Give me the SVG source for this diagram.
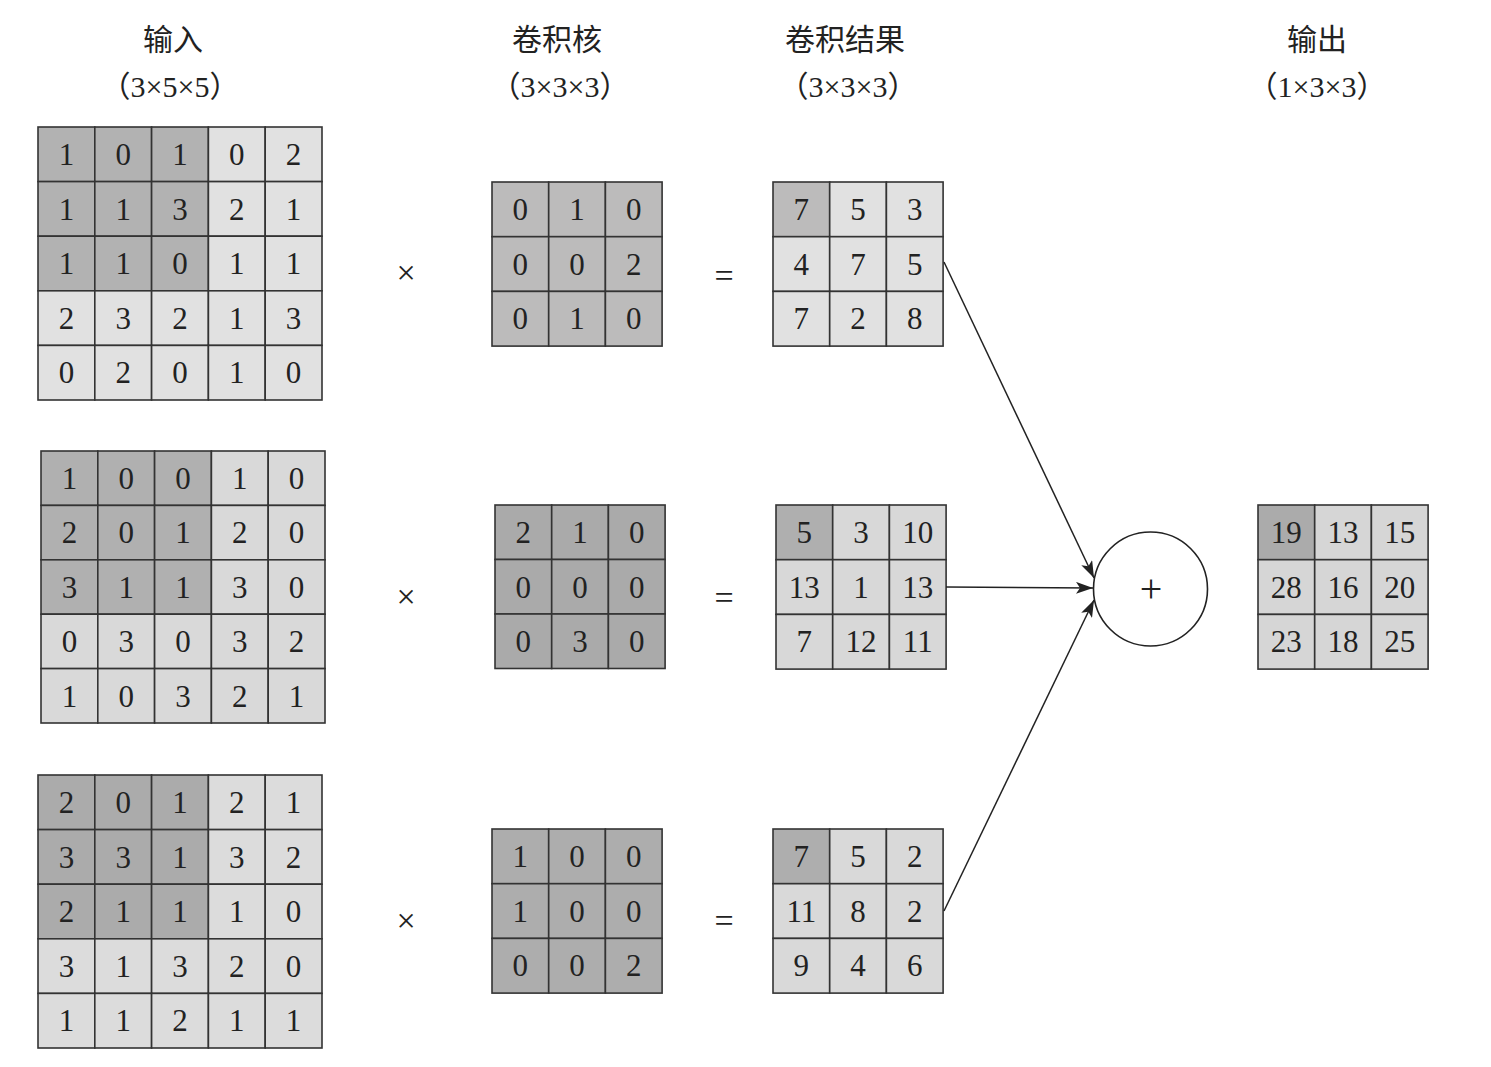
<svg xmlns="http://www.w3.org/2000/svg" width="1491" height="1067" viewBox="0 0 1491 1067">
<style>
text{font-family:"Liberation Serif","Noto Sans CJK SC",serif;fill:#222;text-anchor:middle}
.n{font-size:31px}
.t{font-size:30px}
.op{font-size:34px}
.plus{font-size:40px}
rect{stroke:#333;stroke-width:1.6}
.bg{stroke:none}
.conn line{stroke:#222;stroke-width:1.5;marker-end:url(#ah)}
</style>
<defs>
<marker id="ah" markerUnits="userSpaceOnUse" markerWidth="18" markerHeight="12" refX="17" refY="6" orient="auto">
<path d="M0,0 L17,6 L0,12 L4,6 z" fill="#222"/>
</marker>
</defs>
<rect class="bg" width="1491" height="1067" fill="#fff"/>

<g id="titles">
<text class="t" x="173" y="50">输入</text>
<text class="t" x="170" y="97">（3×5×5）</text>
<text class="t" x="557" y="50">卷积核</text>
<text class="t" x="560" y="97">（3×3×3）</text>
<text class="t" x="845" y="50">卷积结果</text>
<text class="t" x="848" y="97">（3×3×3）</text>
<text class="t" x="1317" y="50">输出</text>
<text class="t" x="1317" y="97">（1×3×3）</text>
</g>

<g id="input1" transform="translate(38,127)">
<g fill="#b2b2b2"><rect x="0" y="0" width="56.8" height="54.6"/><rect x="56.8" y="0" width="56.8" height="54.6"/><rect x="113.6" y="0" width="56.8" height="54.6"/><rect x="0" y="54.6" width="56.8" height="54.6"/><rect x="56.8" y="54.6" width="56.8" height="54.6"/><rect x="113.6" y="54.6" width="56.8" height="54.6"/><rect x="0" y="109.2" width="56.8" height="54.6"/><rect x="56.8" y="109.2" width="56.8" height="54.6"/><rect x="113.6" y="109.2" width="56.8" height="54.6"/></g>
<g fill="#e1e1e1"><rect x="170.4" y="0" width="56.8" height="54.6"/><rect x="227.2" y="0" width="56.8" height="54.6"/><rect x="170.4" y="54.6" width="56.8" height="54.6"/><rect x="227.2" y="54.6" width="56.8" height="54.6"/><rect x="170.4" y="109.2" width="56.8" height="54.6"/><rect x="227.2" y="109.2" width="56.8" height="54.6"/><rect x="0" y="163.8" width="56.8" height="54.6"/><rect x="56.8" y="163.8" width="56.8" height="54.6"/><rect x="113.6" y="163.8" width="56.8" height="54.6"/><rect x="170.4" y="163.8" width="56.8" height="54.6"/><rect x="227.2" y="163.8" width="56.8" height="54.6"/><rect x="0" y="218.4" width="56.8" height="54.6"/><rect x="56.8" y="218.4" width="56.8" height="54.6"/><rect x="113.6" y="218.4" width="56.8" height="54.6"/><rect x="170.4" y="218.4" width="56.8" height="54.6"/><rect x="227.2" y="218.4" width="56.8" height="54.6"/></g>
<text class="n" x="28.4" y="38">1</text><text class="n" x="85.2" y="38">0</text><text class="n" x="142" y="38">1</text><text class="n" x="198.8" y="38">0</text><text class="n" x="255.6" y="38">2</text>
<text class="n" x="28.4" y="92.6">1</text><text class="n" x="85.2" y="92.6">1</text><text class="n" x="142" y="92.6">3</text><text class="n" x="198.8" y="92.6">2</text><text class="n" x="255.6" y="92.6">1</text>
<text class="n" x="28.4" y="147.2">1</text><text class="n" x="85.2" y="147.2">1</text><text class="n" x="142" y="147.2">0</text><text class="n" x="198.8" y="147.2">1</text><text class="n" x="255.6" y="147.2">1</text>
<text class="n" x="28.4" y="201.8">2</text><text class="n" x="85.2" y="201.8">3</text><text class="n" x="142" y="201.8">2</text><text class="n" x="198.8" y="201.8">1</text><text class="n" x="255.6" y="201.8">3</text>
<text class="n" x="28.4" y="256.4">0</text><text class="n" x="85.2" y="256.4">2</text><text class="n" x="142" y="256.4">0</text><text class="n" x="198.8" y="256.4">1</text><text class="n" x="255.6" y="256.4">0</text>
</g>

<g id="input2" transform="translate(41,451)">
<g fill="#b0b0b0"><rect x="0" y="0" width="56.8" height="54.4"/><rect x="56.8" y="0" width="56.8" height="54.4"/><rect x="113.6" y="0" width="56.8" height="54.4"/><rect x="0" y="54.4" width="56.8" height="54.4"/><rect x="56.8" y="54.4" width="56.8" height="54.4"/><rect x="113.6" y="54.4" width="56.8" height="54.4"/><rect x="0" y="108.8" width="56.8" height="54.4"/><rect x="56.8" y="108.8" width="56.8" height="54.4"/><rect x="113.6" y="108.8" width="56.8" height="54.4"/></g>
<g fill="#d9d9d9"><rect x="170.4" y="0" width="56.8" height="54.4"/><rect x="227.2" y="0" width="56.8" height="54.4"/><rect x="170.4" y="54.4" width="56.8" height="54.4"/><rect x="227.2" y="54.4" width="56.8" height="54.4"/><rect x="170.4" y="108.8" width="56.8" height="54.4"/><rect x="227.2" y="108.8" width="56.8" height="54.4"/><rect x="0" y="163.2" width="56.8" height="54.4"/><rect x="56.8" y="163.2" width="56.8" height="54.4"/><rect x="113.6" y="163.2" width="56.8" height="54.4"/><rect x="170.4" y="163.2" width="56.8" height="54.4"/><rect x="227.2" y="163.2" width="56.8" height="54.4"/><rect x="0" y="217.6" width="56.8" height="54.4"/><rect x="56.8" y="217.6" width="56.8" height="54.4"/><rect x="113.6" y="217.6" width="56.8" height="54.4"/><rect x="170.4" y="217.6" width="56.8" height="54.4"/><rect x="227.2" y="217.6" width="56.8" height="54.4"/></g>
<text class="n" x="28.4" y="38">1</text><text class="n" x="85.2" y="38">0</text><text class="n" x="142" y="38">0</text><text class="n" x="198.8" y="38">1</text><text class="n" x="255.6" y="38">0</text>
<text class="n" x="28.4" y="92.4">2</text><text class="n" x="85.2" y="92.4">0</text><text class="n" x="142" y="92.4">1</text><text class="n" x="198.8" y="92.4">2</text><text class="n" x="255.6" y="92.4">0</text>
<text class="n" x="28.4" y="146.8">3</text><text class="n" x="85.2" y="146.8">1</text><text class="n" x="142" y="146.8">1</text><text class="n" x="198.8" y="146.8">3</text><text class="n" x="255.6" y="146.8">0</text>
<text class="n" x="28.4" y="201.2">0</text><text class="n" x="85.2" y="201.2">3</text><text class="n" x="142" y="201.2">0</text><text class="n" x="198.8" y="201.2">3</text><text class="n" x="255.6" y="201.2">2</text>
<text class="n" x="28.4" y="255.6">1</text><text class="n" x="85.2" y="255.6">0</text><text class="n" x="142" y="255.6">3</text><text class="n" x="198.8" y="255.6">2</text><text class="n" x="255.6" y="255.6">1</text>
</g>

<g id="input3" transform="translate(38,775)">
<g fill="#ababab"><rect x="0" y="0" width="56.8" height="54.6"/><rect x="56.8" y="0" width="56.8" height="54.6"/><rect x="113.6" y="0" width="56.8" height="54.6"/><rect x="0" y="54.6" width="56.8" height="54.6"/><rect x="56.8" y="54.6" width="56.8" height="54.6"/><rect x="113.6" y="54.6" width="56.8" height="54.6"/><rect x="0" y="109.2" width="56.8" height="54.6"/><rect x="56.8" y="109.2" width="56.8" height="54.6"/><rect x="113.6" y="109.2" width="56.8" height="54.6"/></g>
<g fill="#dcdcdc"><rect x="170.4" y="0" width="56.8" height="54.6"/><rect x="227.2" y="0" width="56.8" height="54.6"/><rect x="170.4" y="54.6" width="56.8" height="54.6"/><rect x="227.2" y="54.6" width="56.8" height="54.6"/><rect x="170.4" y="109.2" width="56.8" height="54.6"/><rect x="227.2" y="109.2" width="56.8" height="54.6"/><rect x="0" y="163.8" width="56.8" height="54.6"/><rect x="56.8" y="163.8" width="56.8" height="54.6"/><rect x="113.6" y="163.8" width="56.8" height="54.6"/><rect x="170.4" y="163.8" width="56.8" height="54.6"/><rect x="227.2" y="163.8" width="56.8" height="54.6"/><rect x="0" y="218.4" width="56.8" height="54.6"/><rect x="56.8" y="218.4" width="56.8" height="54.6"/><rect x="113.6" y="218.4" width="56.8" height="54.6"/><rect x="170.4" y="218.4" width="56.8" height="54.6"/><rect x="227.2" y="218.4" width="56.8" height="54.6"/></g>
<text class="n" x="28.4" y="38">2</text><text class="n" x="85.2" y="38">0</text><text class="n" x="142" y="38">1</text><text class="n" x="198.8" y="38">2</text><text class="n" x="255.6" y="38">1</text>
<text class="n" x="28.4" y="92.6">3</text><text class="n" x="85.2" y="92.6">3</text><text class="n" x="142" y="92.6">1</text><text class="n" x="198.8" y="92.6">3</text><text class="n" x="255.6" y="92.6">2</text>
<text class="n" x="28.4" y="147.2">2</text><text class="n" x="85.2" y="147.2">1</text><text class="n" x="142" y="147.2">1</text><text class="n" x="198.8" y="147.2">1</text><text class="n" x="255.6" y="147.2">0</text>
<text class="n" x="28.4" y="201.8">3</text><text class="n" x="85.2" y="201.8">1</text><text class="n" x="142" y="201.8">3</text><text class="n" x="198.8" y="201.8">2</text><text class="n" x="255.6" y="201.8">0</text>
<text class="n" x="28.4" y="256.4">1</text><text class="n" x="85.2" y="256.4">1</text><text class="n" x="142" y="256.4">2</text><text class="n" x="198.8" y="256.4">1</text><text class="n" x="255.6" y="256.4">1</text>
</g>

<g id="ops">
<text class="op" x="406" y="284">×</text>
<text class="op" x="406" y="608">×</text>
<text class="op" x="406" y="932">×</text>
<text class="op" x="724" y="287">=</text>
<text class="op" x="724" y="609">=</text>
<text class="op" x="724" y="932">=</text>
</g>

<g id="kernel1" transform="translate(492,182)">
<g fill="#bcbbbb"><rect x="0" y="0" width="56.7" height="54.7"/><rect x="56.7" y="0" width="56.7" height="54.7"/><rect x="113.4" y="0" width="56.7" height="54.7"/><rect x="0" y="54.7" width="56.7" height="54.7"/><rect x="56.7" y="54.7" width="56.7" height="54.7"/><rect x="113.4" y="54.7" width="56.7" height="54.7"/><rect x="0" y="109.4" width="56.7" height="54.7"/><rect x="56.7" y="109.4" width="56.7" height="54.7"/><rect x="113.4" y="109.4" width="56.7" height="54.7"/></g>
<text class="n" x="28.35" y="38">0</text><text class="n" x="85.05" y="38">1</text><text class="n" x="141.75" y="38">0</text>
<text class="n" x="28.35" y="92.7">0</text><text class="n" x="85.05" y="92.7">0</text><text class="n" x="141.75" y="92.7">2</text>
<text class="n" x="28.35" y="147.4">0</text><text class="n" x="85.05" y="147.4">1</text><text class="n" x="141.75" y="147.4">0</text>
</g>

<g id="kernel2" transform="translate(495,505)">
<g fill="#aaaaaa"><rect x="0" y="0" width="56.7" height="54.5"/><rect x="56.7" y="0" width="56.7" height="54.5"/><rect x="113.4" y="0" width="56.7" height="54.5"/><rect x="0" y="54.5" width="56.7" height="54.5"/><rect x="56.7" y="54.5" width="56.7" height="54.5"/><rect x="113.4" y="54.5" width="56.7" height="54.5"/><rect x="0" y="109" width="56.7" height="54.5"/><rect x="56.7" y="109" width="56.7" height="54.5"/><rect x="113.4" y="109" width="56.7" height="54.5"/></g>
<text class="n" x="28.35" y="38">2</text><text class="n" x="85.05" y="38">1</text><text class="n" x="141.75" y="38">0</text>
<text class="n" x="28.35" y="92.5">0</text><text class="n" x="85.05" y="92.5">0</text><text class="n" x="141.75" y="92.5">0</text>
<text class="n" x="28.35" y="147">0</text><text class="n" x="85.05" y="147">3</text><text class="n" x="141.75" y="147">0</text>
</g>

<g id="kernel3" transform="translate(492,829)">
<g fill="#adadad"><rect x="0" y="0" width="56.7" height="54.7"/><rect x="56.7" y="0" width="56.7" height="54.7"/><rect x="113.4" y="0" width="56.7" height="54.7"/><rect x="0" y="54.7" width="56.7" height="54.7"/><rect x="56.7" y="54.7" width="56.7" height="54.7"/><rect x="113.4" y="54.7" width="56.7" height="54.7"/><rect x="0" y="109.4" width="56.7" height="54.7"/><rect x="56.7" y="109.4" width="56.7" height="54.7"/><rect x="113.4" y="109.4" width="56.7" height="54.7"/></g>
<text class="n" x="28.35" y="38">1</text><text class="n" x="85.05" y="38">0</text><text class="n" x="141.75" y="38">0</text>
<text class="n" x="28.35" y="92.7">1</text><text class="n" x="85.05" y="92.7">0</text><text class="n" x="141.75" y="92.7">0</text>
<text class="n" x="28.35" y="147.4">0</text><text class="n" x="85.05" y="147.4">0</text><text class="n" x="141.75" y="147.4">2</text>
</g>

<g id="result1" transform="translate(773,182)">
<rect x="0" y="0" width="56.7" height="54.7" fill="#bcbbbb"/>
<g fill="#e1e1e1"><rect x="56.7" y="0" width="56.7" height="54.7"/><rect x="113.4" y="0" width="56.7" height="54.7"/><rect x="0" y="54.7" width="56.7" height="54.7"/><rect x="56.7" y="54.7" width="56.7" height="54.7"/><rect x="113.4" y="54.7" width="56.7" height="54.7"/><rect x="0" y="109.4" width="56.7" height="54.7"/><rect x="56.7" y="109.4" width="56.7" height="54.7"/><rect x="113.4" y="109.4" width="56.7" height="54.7"/></g>
<text class="n" x="28.35" y="38">7</text><text class="n" x="85.05" y="38">5</text><text class="n" x="141.75" y="38">3</text>
<text class="n" x="28.35" y="92.7">4</text><text class="n" x="85.05" y="92.7">7</text><text class="n" x="141.75" y="92.7">5</text>
<text class="n" x="28.35" y="147.4">7</text><text class="n" x="85.05" y="147.4">2</text><text class="n" x="141.75" y="147.4">8</text>
</g>

<g id="result2" transform="translate(776,505)">
<rect x="0" y="0" width="56.7" height="54.7" fill="#afafaf"/>
<g fill="#d8d8d8"><rect x="56.7" y="0" width="56.7" height="54.7"/><rect x="113.4" y="0" width="56.7" height="54.7"/><rect x="0" y="54.7" width="56.7" height="54.7"/><rect x="56.7" y="54.7" width="56.7" height="54.7"/><rect x="113.4" y="54.7" width="56.7" height="54.7"/><rect x="0" y="109.4" width="56.7" height="54.7"/><rect x="56.7" y="109.4" width="56.7" height="54.7"/><rect x="113.4" y="109.4" width="56.7" height="54.7"/></g>
<text class="n" x="28.35" y="38">5</text><text class="n" x="85.05" y="38">3</text><text class="n" x="141.75" y="38">10</text>
<text class="n" x="28.35" y="92.7">13</text><text class="n" x="85.05" y="92.7">1</text><text class="n" x="141.75" y="92.7">13</text>
<text class="n" x="28.35" y="147.4">7</text><text class="n" x="85.05" y="147.4">12</text><text class="n" x="141.75" y="147.4">11</text>
</g>

<g id="result3" transform="translate(773,829)">
<rect x="0" y="0" width="56.7" height="54.7" fill="#aeaeae"/>
<g fill="#d9d9d9"><rect x="56.7" y="0" width="56.7" height="54.7"/><rect x="113.4" y="0" width="56.7" height="54.7"/><rect x="0" y="54.7" width="56.7" height="54.7"/><rect x="56.7" y="54.7" width="56.7" height="54.7"/><rect x="113.4" y="54.7" width="56.7" height="54.7"/><rect x="0" y="109.4" width="56.7" height="54.7"/><rect x="56.7" y="109.4" width="56.7" height="54.7"/><rect x="113.4" y="109.4" width="56.7" height="54.7"/></g>
<text class="n" x="28.35" y="38">7</text><text class="n" x="85.05" y="38">5</text><text class="n" x="141.75" y="38">2</text>
<text class="n" x="28.35" y="92.7">11</text><text class="n" x="85.05" y="92.7">8</text><text class="n" x="141.75" y="92.7">2</text>
<text class="n" x="28.35" y="147.4">9</text><text class="n" x="85.05" y="147.4">4</text><text class="n" x="141.75" y="147.4">6</text>
</g>

<g id="sum">
<circle cx="1150.5" cy="589" r="57" fill="#fff" stroke="#222" stroke-width="1.6"/>
<text class="plus" x="1151" y="602">+</text>
</g>

<g id="output" transform="translate(1258,505)">
<rect x="0" y="0" width="56.7" height="54.7" fill="#ababab"/>
<g fill="#d6d6d6"><rect x="56.7" y="0" width="56.7" height="54.7"/><rect x="113.4" y="0" width="56.7" height="54.7"/><rect x="0" y="54.7" width="56.7" height="54.7"/><rect x="56.7" y="54.7" width="56.7" height="54.7"/><rect x="113.4" y="54.7" width="56.7" height="54.7"/><rect x="0" y="109.4" width="56.7" height="54.7"/><rect x="56.7" y="109.4" width="56.7" height="54.7"/><rect x="113.4" y="109.4" width="56.7" height="54.7"/></g>
<text class="n" x="28.35" y="38">19</text><text class="n" x="85.05" y="38">13</text><text class="n" x="141.75" y="38">15</text>
<text class="n" x="28.35" y="92.7">28</text><text class="n" x="85.05" y="92.7">16</text><text class="n" x="141.75" y="92.7">20</text>
<text class="n" x="28.35" y="147.4">23</text><text class="n" x="85.05" y="147.4">18</text><text class="n" x="141.75" y="147.4">25</text>
</g>

<g id="connectors" class="conn">
<line x1="944" y1="262" x2="1094" y2="578"/>
<line x1="946" y1="587" x2="1093" y2="588"/>
<line x1="944" y1="911" x2="1094" y2="600"/>
</g>
</svg>
